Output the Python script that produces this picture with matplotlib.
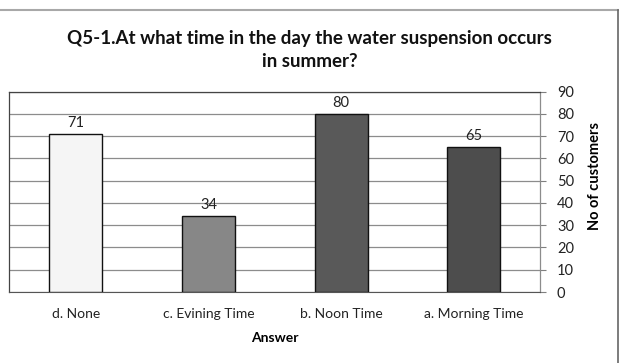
import matplotlib.pyplot as plt
from matplotlib.lines import Line2D

categories = ["d. None", "c. Evining Time", "b. Noon Time", "a. Morning Time"]
values = [71, 34, 80, 65]
bar_colors = ["#f5f5f5", "#878787", "#595959", "#4d4d4d"]
yticks = list(range(0, 100, 10))

plt.rcParams['font.family'] = ['Lato', 'DejaVu Sans']

W, H = 619, 363
fig = plt.figure(figsize=(W / 100, H / 100), dpi=100)
fig.patch.set_facecolor("white")

left, right, top, bottom = 9.3, 540.3, 91.7, 292
ax = fig.add_axes([left / W, 1 - bottom / H, (right - left) / W, (bottom - top) / H])

x = list(range(len(categories)))
bars = ax.bar(x, values, width=0.4, color=bar_colors, edgecolor="#111111", linewidth=1.0, zorder=3)
for xi, v in zip(x, values):
    ax.text(xi, v + 2.0, str(v), ha="center", va="bottom", fontsize=10.5, color="#222222", zorder=4)

ax.set_xlim(-0.5, len(categories) - 0.5)
ax.set_ylim(0, 90)
ax.yaxis.tick_right()
ax.yaxis.set_label_position("right")
ax.set_yticks(yticks)
ax.set_yticklabels([str(t) for t in yticks], fontsize=10.5, color="#222222")
ax.tick_params(axis="y", direction="out", length=4, width=0.8, color="#7f7f7f", pad=8)
ax.set_xticks(x)
ax.set_xticklabels(categories, fontsize=10, color="#222222", va="center_baseline")
ax.tick_params(axis="x", length=0, pad=15)
ax.grid(axis="y", color="#8c8c8c", linewidth=0.9, zorder=0)
for s in ["left", "top"]:
    ax.spines[s].set_color("#444444")
    ax.spines[s].set_linewidth(0.9)
ax.spines["bottom"].set_color("#555555")
ax.spines["right"].set_color("#8c8c8c")
ax.spines["right"].set_linewidth(0.9)

ax.set_ylabel("No of customers", fontsize=10.5, fontweight="bold")
ax.yaxis.set_label_coords(1.09, 0.58)
ax.set_xlabel("Answer", fontsize=10, fontweight="bold", labelpad=9)

fig.text(0.5, 1 - 50 / H, "Q5-1.At what time in the day the water suspension occurs\nin summer?",
         ha="center", va="center", fontsize=13.5, fontweight="bold", color="#111111", linespacing=1.4)

# outer border (top and right)
fig.add_artist(Line2D([0, 618 / W], [1 - 10 / H, 1 - 10 / H], transform=fig.transFigure, color="#a8a8a8", linewidth=1.5))
fig.add_artist(Line2D([617.5 / W, 617.5 / W], [1 - 10 / H, 0], transform=fig.transFigure, color="#666666", linewidth=1.2))

fig.savefig("out.png", dpi=100)
